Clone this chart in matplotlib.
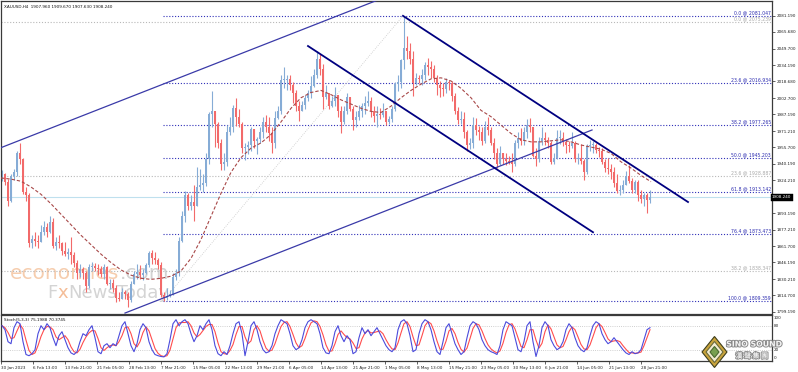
import matplotlib
matplotlib.use("Agg")
import matplotlib.pyplot as plt
import matplotlib.patheffects as pe
from matplotlib.patches import Polygon

plt.rcParams['font.family'] = ['DejaVu Sans', 'Noto Sans CJK TC']

# ---------------- data ----------------
symbol_header = "XAUUSD,H4  1907.960 1909.670 1907.630 1908.240"
stoch_header = "Stoch(5,3,3) 75.1988 70.3745"

first_open = 1928
highs = [
    1934, 1931, 1926, 1930, 1935, 1952, 1960, 1946, 1918, 1912,
    1872, 1875, 1872, 1882, 1886, 1884, 1890, 1888, 1870, 1872,
    1866, 1866, 1860, 1870, 1856, 1848, 1845, 1842, 1838, 1845,
    1847, 1846, 1845, 1843, 1845, 1843, 1830, 1830, 1825, 1818,
    1822, 1820, 1818, 1828, 1838, 1845, 1844, 1840, 1846, 1857,
    1858, 1856, 1850, 1847, 1818, 1822, 1820, 1836, 1840, 1870,
    1895, 1914, 1912, 1910, 1920, 1937, 1935, 1930, 1950, 1989,
    2009, 1990, 1980, 1964, 1950, 1977, 1985, 1996, 2003, 1992,
    1980, 1960, 1962, 1975, 1968, 1966, 1975, 1985, 1987, 1985,
    1975, 1990, 1995, 2025, 2032, 2025, 2025, 2018, 2010, 2000,
    2000, 2006, 2010, 2024, 2030, 2048, 2045, 2035, 2015, 2008,
    2005, 2013, 2005, 1995, 1995, 2008, 2004, 1995, 1990, 1996,
    1998, 2005, 2009, 2004, 1995, 1995, 1993, 1998, 1990, 1986,
    1995, 2018, 2025, 2040, 2081, 2062, 2055, 2048, 2027, 2025,
    2030, 2037, 2041, 2038, 2034, 2025, 2019, 2017, 2022, 2020,
    2019, 2008, 1994, 1990, 1989, 1972, 1965, 1985, 1984, 1976,
    1975, 1981, 1985, 1975, 1965, 1955, 1957, 1950, 1950, 1948,
    1950, 1963, 1970, 1974, 1975, 1983, 1984, 1975, 1955, 1966,
    1975, 1970, 1966, 1962, 1950, 1972, 1972, 1970, 1964, 1962,
    1970, 1962, 1950, 1959, 1945, 1959, 1963, 1962, 1960, 1956,
    1955, 1945, 1946, 1940, 1937, 1930, 1920, 1925, 1933, 1939,
    1927, 1925, 1925, 1915, 1912, 1912, 1915,
]
lows = [
    1924, 1920, 1900, 1904, 1925, 1928, 1940, 1911, 1905, 1861,
    1860, 1862, 1860, 1866, 1872, 1870, 1874, 1860, 1858, 1860,
    1853, 1852, 1849, 1845, 1842, 1830, 1832, 1830, 1818, 1822,
    1838, 1838, 1834, 1832, 1830, 1825, 1821, 1818, 1808, 1809,
    1811, 1811, 1804, 1808, 1826, 1830, 1830, 1829, 1835, 1842,
    1845, 1845, 1840, 1813, 1809, 1810, 1813, 1815, 1829, 1833,
    1866, 1885, 1896, 1896, 1886, 1900, 1915, 1913, 1919, 1940,
    1975, 1956, 1955, 1934, 1934, 1938, 1968, 1970, 1976, 1975,
    1950, 1944, 1949, 1952, 1955, 1949, 1960, 1965, 1970, 1962,
    1950, 1955, 1983, 1988, 2012, 2010, 2010, 1998, 1990, 1981,
    1990, 1992, 2000, 2003, 2013, 2022, 2025, 1992, 2002, 1992,
    1994, 1995, 1985, 1969, 1978, 1988, 1990, 1972, 1975, 1982,
    1985, 1988, 1995, 1985, 1980, 1975, 1983, 1985, 1977, 1978,
    1980, 1990, 2009, 2012, 2030, 2040, 2035, 2005, 2015, 2017,
    2015, 2020, 2025, 2022, 2018, 2006, 2004, 2005, 2008, 2010,
    2000, 1988, 1978, 1978, 1965, 1952, 1954, 1955, 1968, 1963,
    1958, 1960, 1968, 1958, 1945, 1936, 1939, 1940, 1939, 1940,
    1932, 1938, 1955, 1958, 1958, 1965, 1970, 1947, 1938, 1942,
    1958, 1958, 1955, 1940, 1940, 1945, 1959, 1957, 1950, 1951,
    1955, 1942, 1940, 1940, 1925, 1930, 1952, 1950, 1950, 1947,
    1940, 1932, 1930, 1926, 1918, 1912, 1910, 1912, 1920, 1922,
    1912, 1912, 1905, 1903, 1900, 1893, 1903,
]
closes = [
    1930, 1923, 1905, 1928, 1932, 1950, 1945, 1913, 1910, 1865,
    1868, 1867, 1866, 1875, 1880, 1875, 1885, 1862, 1866, 1865,
    1857, 1854, 1856, 1853, 1846, 1836, 1840, 1836, 1824, 1842,
    1843, 1841, 1840, 1835, 1842, 1826, 1827, 1822, 1812, 1811,
    1818, 1816, 1810, 1826, 1835, 1837, 1834, 1836, 1844, 1855,
    1850, 1848, 1844, 1815, 1812, 1814, 1816, 1832, 1836, 1867,
    1890, 1910, 1900, 1904, 1900, 1918, 1920, 1922, 1945, 1988,
    1990, 1978, 1960, 1940, 1942, 1970, 1975, 1993, 1985, 1978,
    1955, 1956, 1958, 1973, 1962, 1964, 1970, 1980, 1975, 1969,
    1960, 1984, 1990, 2020, 2020, 2021, 2015, 2008, 1995, 1990,
    1996, 2003, 2008, 2014, 2025, 2040, 2030, 2004, 2008, 1995,
    2000, 2006, 1990, 1980, 1990, 2004, 1992, 1982, 1985, 1990,
    1995, 1998, 2000, 1990, 1986, 1988, 1987, 1990, 1980, 1983,
    1992, 2016, 2018, 2039, 2050, 2048, 2040, 2017, 2022, 2021,
    2025, 2034, 2032, 2030, 2022, 2015, 2012, 2011, 2018, 2017,
    2005, 1990, 1982, 1983, 1970, 1958, 1960, 1977, 1972, 1970,
    1962, 1975, 1972, 1960, 1950, 1940, 1950, 1945, 1943, 1942,
    1940, 1960, 1965, 1962, 1970, 1977, 1975, 1948, 1945, 1962,
    1965, 1963, 1960, 1942, 1946, 1965, 1965, 1961, 1958, 1957,
    1960, 1945, 1946, 1943, 1932, 1957, 1958, 1958, 1953, 1952,
    1942, 1936, 1935, 1932, 1922, 1914, 1915, 1920, 1928, 1924,
    1915, 1923, 1910, 1907, 1910, 1906, 1908,
]

ma_bars = list(range(0, 651, 10))
ma_values = [
    1926.6, 1925.5, 1923.5, 1918, 1911, 1902, 1892, 1882, 1872, 1863,
    1854, 1846, 1839, 1834, 1831, 1830, 1831, 1833, 1838, 1850,
    1868, 1890, 1912, 1932, 1946, 1955, 1960, 1968, 1980, 1993,
    2003, 2008, 2010, 2006, 2001, 1997, 1993, 1990, 1989, 1995,
    2003, 2010, 2016, 2021, 2022, 2019, 2012, 2003, 1991, 1985,
    1977, 1969, 1963, 1961, 1961, 1962, 1963, 1961, 1958, 1956,
    1954, 1950, 1942, 1936, 1929, 1923,
]

stoch_k = [
    80, 70, 40, 35, 75, 90, 85, 40, 8, 5,
    10, 20, 60, 80, 70, 85, 75, 50, 30, 55,
    65, 45, 25, 12, 8, 15, 40, 60, 55, 70,
    80, 50, 15, 10, 30, 35, 25, 35, 30, 55,
    80, 90, 60, 30, 15, 35, 70, 85, 75, 40,
    20, 8, 5, 3, 2, 10, 45, 85, 95, 80,
    90, 95, 85, 60, 40, 55, 80, 70, 85, 95,
    70, 30, 10, 5, 15, 8, 30, 60, 85, 90,
    60, 5, 40, 80, 90, 70, 40, 20, 12, 15,
    30, 60, 80, 95, 90, 85, 60, 30, 20, 25,
    45, 75, 90, 95, 90, 85, 60, 25, 12, 10,
    30, 65, 80, 55, 40, 55, 45, 10, 15, 50,
    75, 60, 70, 55, 65, 75, 60, 45, 30, 20,
    15, 25, 70, 90, 95, 85, 55, 15, 20, 60,
    85, 95, 90, 70, 40, 15, 8, 40, 75, 85,
    60, 35, 20, 8, 15, 50, 80, 90, 85, 70,
    45, 30, 20, 15, 12, 8, 30, 70, 90, 85,
    80, 50, 20, 15, 40, 80, 90, 40, 3, 30,
    75, 90, 80, 45, 30, 20, 25, 40, 70, 85,
    75, 50, 30, 20, 15, 25, 55, 80, 90, 85,
    60, 45, 35, 40, 50, 40, 30, 20, 12, 8,
    15, 10, 12, 20, 45, 70, 75,
]
stoch_d = [
    80, 75, 63, 48, 50, 67, 83, 72, 44, 18,
    8, 12, 30, 53, 70, 78, 77, 70, 52, 45,
    50, 55, 45, 27, 15, 12, 21, 38, 52, 62,
    68, 67, 48, 25, 18, 25, 30, 32, 30, 40,
    55, 75, 77, 60, 35, 27, 40, 63, 77, 67,
    45, 23, 11, 5, 3, 5, 19, 47, 75, 87,
    88, 88, 90, 80, 62, 52, 58, 68, 78, 83,
    83, 65, 37, 15, 10, 9, 18, 33, 58, 78,
    78, 52, 35, 42, 70, 80, 67, 43, 24, 16,
    19, 35, 57, 78, 88, 90, 78, 58, 37, 25,
    30, 48, 70, 87, 92, 90, 78, 57, 32, 16,
    17, 35, 58, 67, 58, 50, 47, 37, 23, 25,
    47, 62, 68, 62, 63, 65, 67, 60, 45, 32,
    22, 20, 37, 62, 85, 90, 78, 52, 30, 32,
    55, 80, 90, 85, 67, 42, 21, 21, 41, 67,
    73, 60, 38, 21, 14, 24, 48, 73, 85, 82,
    67, 48, 32, 22, 16, 12, 17, 36, 63, 82,
    85, 72, 50, 28, 25, 45, 70, 70, 44, 24,
    36, 65, 82, 72, 52, 32, 25, 28, 45, 65,
    77, 70, 52, 33, 22, 20, 32, 53, 75, 85,
    78, 63, 47, 40, 42, 43, 40, 30, 21, 13,
    12, 11, 12, 14, 30, 50, 70,
]

fib_blue_levels = ["0.0", "23.6", "38.2", "50.0", "61.8", "76.4", "100.0"]
fib_blue_prices = [2081.047, 2016.934, 1977.265, 1945.203, 1913.142, 1873.473, 1809.359]
fib_blue_anchor_bars = [162, 402]
fib_gray_levels = ["0.0", "23.6", "38.2"]
fib_gray_prices = [2075.239, 1928.887, 1838.347]

asc_upper_bars, asc_upper_prices = [-1, 377], [1955.1, 2096.2]
asc_lower_bars, asc_lower_prices = [124, 591], [1797.9, 1972.3]
desc_upper_bars, desc_upper_prices = [402, 687], [2081.05, 1903.7]
desc_lower_bars, desc_lower_prices = [307, 592], [2052.3, 1874.9]

last_price = 1908.24
price_ticks = [2081.190, 2065.680, 2049.700, 2034.190, 2018.680, 2002.700, 1987.190,
               1971.210, 1955.700, 1940.190, 1924.210, 1893.190, 1877.210, 1861.700,
               1846.190, 1830.210, 1814.700, 1799.190]
stoch_ticks = [100, 80, 20, 0]
stoch_levels = [80, 20]
time_tick_bars = [0] + list(range(32, 641, 32))
time_labels = ["30 Jan 2023", "6 Feb 13:00", "13 Feb 21:00", "21 Feb 05:00", "28 Feb 13:00",
               "7 Mar 21:00", "15 Mar 05:00", "22 Mar 13:00", "29 Mar 21:00", "6 Apr 05:00",
               "14 Apr 13:00", "21 Apr 21:00", "1 May 05:00", "8 May 13:00", "15 May 21:00",
               "23 May 05:00", "30 May 13:00", "6 Jun 21:00", "14 Jun 05:00", "21 Jun 13:00",
               "28 Jun 21:00"]

# ---------------- style ----------------
BULL = '#86acd6'
BEAR = '#f26a6a'
NAVY = '#000080'
FIBBLUE = '#3030b8'
FIBGRAY = '#b8b8b8'
FS = 3.0
W, H = 798, 372

fig = plt.figure(figsize=(W / 100, H / 100), dpi=100, facecolor='white')

def rect(l, t, r, b):
    return [l / W, 1 - b / H, (r - l) / W, (b - t) / H]

ax = fig.add_axes(rect(1, 1, 772, 313.5))
axs = fig.add_axes(rect(1, 315, 772, 360.7), sharex=ax)

for a in (ax, axs):
    a.set_facecolor('white')
    for s in a.spines.values():
        s.set_color('#3a3a3a')
        s.set_linewidth(0.9)

ax.set_xlim(0, 771)
ax.set_ylim(1797.47, 2095.2)
axs.set_ylim(-7.5, 106.75)

# watermark (behind candles)
wm1 = ax.text(9 / 771, (313.5 - 279) / 312.5, "economies", transform=ax.transAxes,
              fontsize=14.5, color='#f6cdae', va='baseline', ha='left', zorder=0.5)
ax.annotate(".com", xy=(1, 0), xycoords=wm1, fontsize=14.5, color='#d2d2d2',
            va='bottom', ha='left', zorder=0.5)
wm2 = ax.text(46 / 771, (313.5 - 298) / 312.5, "F", transform=ax.transAxes,
              fontsize=13, color='#d4d4d4', va='baseline', ha='left', zorder=0.5)
wm3 = ax.annotate("x", xy=(1, 0), xycoords=wm2, fontsize=13, color='#f4bd98',
                  va='bottom', ha='left', zorder=0.5)
ax.annotate("NewsToday", xy=(1, 0), xycoords=wm3, fontsize=13, color='#d4d4d4',
            va='bottom', ha='left', zorder=0.5)

# fib levels
for lvl, p in zip(fib_gray_levels, fib_gray_prices):
    ax.plot([0, 771], [p, p], color=FIBGRAY, lw=0.8, ls=(0, (1, 1.6)), zorder=1)
    ax.text(770, p + 0.6, f"{lvl} @ {p:.3f}", color='#a9a9a9', fontsize=3.3,
            ha='right', va='bottom', zorder=4)
for lvl, p in zip(fib_blue_levels, fib_blue_prices):
    ax.plot([fib_blue_anchor_bars[0], 771], [p, p], color=FIBBLUE, lw=0.8,
            ls=(0, (1, 1.6)), zorder=1)
    ax.text(770, p + 0.6, f"{lvl} @ {p:.3f}", color='#2c2cb0', fontsize=3.3,
            ha='right', va='bottom', zorder=4)
ax.plot(fib_blue_anchor_bars, [fib_blue_prices[-1], fib_blue_prices[0]],
        color='#c8c8c8', lw=0.6, ls=(0, (1, 1.6)), zorder=1)

# current price line
ax.axhline(last_price, color='#bfe0ee', lw=0.8, zorder=1)

# candles
opens = [first_open] + closes[:-1]
xs = [3 * i + 1 for i in range(len(closes))]
cols = [BULL if c >= o else BEAR for o, c in zip(opens, closes)]
wlo = [min(l, o, c) for l, o, c in zip(lows, opens, closes)]
whi = [max(h, o, c) for h, o, c in zip(highs, opens, closes)]
ax.vlines(xs, wlo, whi, colors=cols, lw=0.8, zorder=2)
bot = [min(o, c) for o, c in zip(opens, closes)]
hgt = [max(abs(c - o), 0.9) for o, c in zip(opens, closes)]
ax.bar(xs, hgt, bottom=bot, width=2.4, color=cols, linewidth=0, zorder=2)

# moving average
ax.plot(ma_bars, ma_values, color='#a84848', lw=0.8, ls=(0, (3, 1.8)), zorder=3)

# channels
ax.plot(asc_upper_bars, asc_upper_prices, color='#3a3aa8', lw=0.9, zorder=3)
ax.plot(asc_lower_bars, asc_lower_prices, color='#3a3aa8', lw=0.9, zorder=3)
ax.plot(desc_upper_bars, desc_upper_prices, color=NAVY, lw=1.3, zorder=3)
ax.plot(desc_lower_bars, desc_lower_prices, color=NAVY, lw=1.3, zorder=3)

# price axis
ax.yaxis.tick_right()
ax.set_yticks(price_ticks)
ax.set_yticklabels([f"{v:.3f}" for v in price_ticks])
ax.tick_params(axis='y', labelsize=FS, length=2.5, width=0.5, pad=1, colors='#222222')
ax.tick_params(axis='x', bottom=False, labelbottom=False)
ax.text(1.0, last_price, f"{last_price:.3f}", transform=ax.get_yaxis_transform(),
        fontsize=FS, color='white', ha='left', va='center', zorder=6, clip_on=False,
        bbox=dict(boxstyle='square,pad=0.35', fc='black', ec='black', lw=0.3))

ax.text(3 / 771, (313.5 - 7) / 312.5, symbol_header, transform=ax.transAxes,
        fontsize=FS, ha='left', va='center', color='#111111')

# stochastic
for lv in stoch_levels:
    axs.axhline(lv, color='#c0c0c0', lw=0.6, ls=(0, (1, 1.6)), zorder=1)
sx = [3 * i + 1 for i in range(len(stoch_k))]
axs.plot(sx, stoch_d, color='#ff4d4d', lw=0.8, zorder=2)
axs.plot(sx, stoch_k, color='#4b4bdc', lw=0.8, zorder=3)
axs.yaxis.tick_right()
axs.set_yticks(stoch_ticks)
axs.set_yticklabels([str(v) for v in stoch_ticks])
axs.tick_params(axis='y', labelsize=FS, length=0, pad=1.5, colors='#222222')
axs.set_xticks(time_tick_bars)
axs.set_xticklabels(time_labels)
axs.tick_params(axis='x', labelsize=FS, length=2.5, width=0.5, pad=1, colors='#222222')
for lab in axs.get_xticklabels():
    lab.set_horizontalalignment('left')
axs.text(3 / 771, 0.9, stoch_header, transform=axs.transAxes, fontsize=FS,
         ha='left', va='center', color='#111111')

# logo overlay (figure pixel space)
deco = fig.add_axes([0, 0, 1, 1], zorder=10)
deco.set_xlim(0, W)
deco.set_ylim(H, 0)
deco.axis('off')
deco.patch.set_alpha(0)
cx, cy = 714.5, 352
for hw, hh, fc, ec in [(12.5, 15.5, '#c9a43c', '#3e3e1c'), (8.5, 10.5, '#f2ecd2', '#6a6a3a'),
                       (4.5, 5.5, '#78a050', '#4a6a30')]:
    deco.add_patch(Polygon([(cx, cy - hh), (cx + hw, cy), (cx, cy + hh), (cx - hw, cy)],
                           closed=True, fc=fc, ec=ec, lw=0.8))
stroke = [pe.withStroke(linewidth=1.4, foreground='#8a8a8a')]
deco.text(754, 344, "SINO SOUND", fontsize=5.6, fontweight='bold', color='#f4f4f4',
          ha='center', va='center', path_effects=stroke)
deco.text(752, 355.5, "漢 聲 集 團", fontsize=5.0, fontweight='bold', color='#f4f4f4',
          ha='center', va='center', family=['Noto Sans CJK TC', 'DejaVu Sans'],
          path_effects=stroke)

fig.savefig("out.png", dpi=100, facecolor='white')
